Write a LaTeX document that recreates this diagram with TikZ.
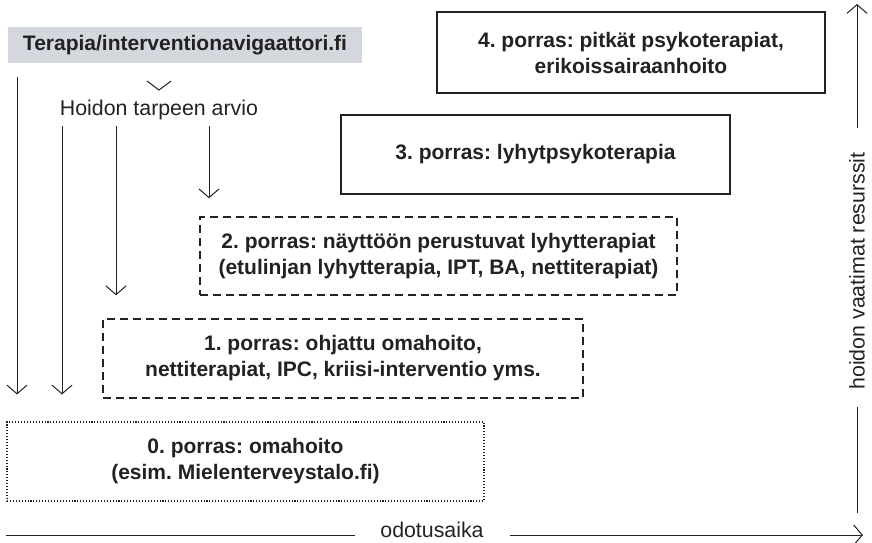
\documentclass[tikz,border=0pt]{standalone}
\usepackage{fontspec}
\setmainfont{Liberation Sans}
\usetikzlibrary{arrows.meta,calc}
\definecolor{ink}{RGB}{34,34,34}
\definecolor{navgray}{RGB}{212,215,221}
\frenchspacing
\tikzset{
  stepsolid/.style={draw=ink, line width=1.5pt, align=center, inner sep=0pt, font=\bfseries\fontsize{15.75}{19.5}\selectfont, text=ink},
  stepdashed/.style={stepsolid, line width=1.1pt, dash pattern=on 6pt off 3.75pt},
  stepdotted/.style={stepsolid, line width=0.8pt, dash pattern=on 0.8pt off 1.4pt},
  lbl/.style={font=\fontsize{16}{19.5}\selectfont, text=ink, inner sep=0pt},
  arr/.style={draw=ink, line width=0.75pt, -{Straight Barb[length=6.5pt,width=15pt,line width=0.75pt]}},
  plain/.style={draw=ink, line width=0.75pt},
}
\begin{document}
\begin{tikzpicture}[x=0.75pt,y=-0.75pt]
\useasboundingbox (0,0) rectangle (872,543);
% header
\node[fill=navgray, minimum width=265.5pt, minimum height=27pt, inner sep=0pt,
      font=\bfseries\fontsize{15.75}{19}\selectfont, text=ink] (nav) at (185,45) {Terapia/interventionavigaattori.fi};
\node[lbl] (hoi) at (159,110) {Hoidon tarpeen arvio};
\draw[plain] (147,81) -- (159,90) -- (171,81);
% steps
\node[stepsolid, minimum width=291pt, minimum height=60.75pt] (b4) at (631,52.5)
  {4. porras: pitkät psykoterapiat,\\erikoissairaanhoito};
\node[stepsolid, minimum width=291.75pt, minimum height=59.25pt] (b3) at (535.5,154.5)
  {3. porras: lyhytpsykoterapia};
\node[stepdashed, minimum width=357.75pt, minimum height=58.5pt] (b2) at (438.5,256)
  {2. porras: näyttöön perustuvat lyhytterapiat\\(etulinjan lyhytterapia, IPT, BA, nettiterapiat)};
\node[stepdashed, minimum width=360pt, minimum height=59.25pt] (b1) at (343,358.5)
  {1. porras: ohjattu omahoito,\\nettiterapiat, IPC, kriisi-interventio yms.};
\node[stepdotted, minimum width=357.75pt, minimum height=59.25pt] (b0) at (245.5,461.5)
  {0. porras: omahoito\\(esim. Mielenterveystalo.fi)};
% vertical arrows
\coordinate (s1) at (17,77);
\coordinate (s2) at (62,126);
\coordinate (s3) at (116,126);
\coordinate (s4) at (209,126);
\coordinate (t0) at ($(b0.north)+(0,-27)$);
\coordinate (t1) at ($(b1.north)+(0,-23)$);
\coordinate (t2) at ($(b2.north)+(0,-18)$);
\draw[arr] (s1) -- (s1 |- t0);
\draw[arr] (s2) -- (s2 |- t0);
\draw[arr] (s3) -- (s3 |- t1);
\draw[arr] (s4) -- (s4 |- t2);
% axes
\node[lbl] (xlab) at (432,530) {odotusaika};
\coordinate (xl) at (6,535);
\coordinate (xr) at (863,535);
\draw[plain] (xl) -- (355,535);
\draw[arr] (510,535) -- (xr);
\node[lbl, rotate=90] (ylab) at (857,271) {hoidon vaatimat resurssit};
\coordinate (yt) at (857,4);
\coordinate (yb) at (857,513);
\draw[arr] ($(ylab.east)+(0,-24)$) -- (yt);
\draw[plain] ($(ylab.west)+(0,17)$) -- (yb);
\end{tikzpicture}
\end{document}
